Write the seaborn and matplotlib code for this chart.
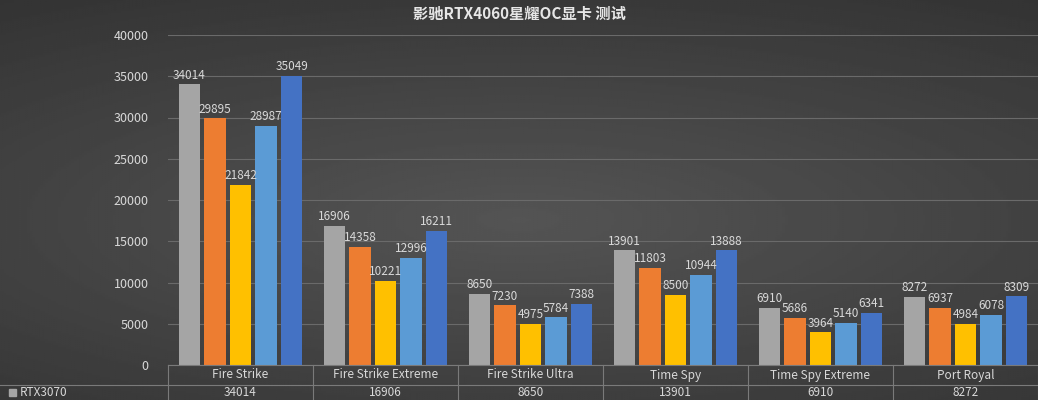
import numpy as np
import pandas as pd
import matplotlib
matplotlib.use("Agg")
import matplotlib.pyplot as plt
import seaborn as sns

categories = ["Fire Strike", "Fire Strike Extreme", "Fire Strike Ultra", "Time Spy", "Time Spy Extreme", "Port Royal"]
series_names = ["RTX3070", "RTX3060Ti", "RTX3060", "RTX4060Ti", "RTX4070"]
rtx3070 = [34014, 16906, 8650, 13901, 6910, 8272]
s2 = [29895, 14358, 7230, 11803, 5686, 6937]
s3 = [21842, 10221, 4975, 8500, 3964, 4984]
s4 = [28987, 12996, 5784, 10944, 5140, 6078]
s5 = [35049, 16211, 7388, 13888, 6341, 8309]
yticks = [0, 5000, 10000, 15000, 20000, 25000, 30000, 35000, 40000]
colors = ["#a5a5a5", "#ed7d31", "#ffc000", "#5b9bd5", "#4472c4"]

vals = [rtx3070, s2, s3, s4, s5]
df = pd.DataFrame([(c, n, v) for n, vs in zip(series_names, vals) for c, v in zip(categories, vs)],
                  columns=["cat", "series", "val"])

plt.rcParams["font.family"] = ["Noto Sans CJK SC", "DejaVu Sans"]
W, H = 1038, 400
fig = plt.figure(figsize=(W/100, H/100), dpi=100)
# background gradient
bg = fig.add_axes([0, 0, 1, 1], zorder=-10)
yy, xx = np.mgrid[0:1:200j, 0:1:400j]
r = np.sqrt(((xx-0.5)*1.2)**2 + ((yy-0.55)*1.6)**2)
bg.imshow(0.33 - 0.12*r, cmap="gray", vmin=0, vmax=1, aspect="auto", extent=[0, 1, 0, 1])
bg.axis("off")

x0, x1, yb, yt = 168, 1038, 365, 35
ax = fig.add_axes([x0/W, 1-yb/H, (x1-x0)/W, (yb-yt)/H])
ax.patch.set_alpha(0)
sns.barplot(data=df, x="cat", y="val", hue="series", palette=colors, width=0.88,
            ax=ax, legend=False, saturation=1, zorder=3)
for p in ax.patches:
    w = p.get_width()
    p.set_x(p.get_x() + w*0.08)
    p.set_width(w*0.84)
for cont in ax.containers:
    ax.bar_label(cont, fmt="%d", fontsize=8.5, color="#d9d9d9", padding=2)
ax.set_xlim(-0.5, 5.5)
ax.set_ylim(0, 40000)
ax.set_yticks(yticks)
ax.set_yticklabels([str(t) for t in yticks], color="#d9d9d9", fontsize=9)
ax.tick_params(length=0, pad=14)
ax.set_xticks([])
ax.set_xlabel(""); ax.set_ylabel("")
ax.grid(axis="y", color="#6a6a6a", lw=0.8, zorder=0)
for s in ax.spines.values():
    s.set_visible(False)

# data table
lc = "#7a7a7a"
fy = lambda y: 1 - y/H
fig.add_artist(plt.Line2D([x0/W, 1], [fy(365)]*2, color=lc, lw=0.8))
fig.add_artist(plt.Line2D([0, 1], [fy(385)]*2, color=lc, lw=0.8))
for i in range(7):
    xd = ax.transData.transform((i-0.5, 0))[0]
    fig.add_artist(plt.Line2D([xd/W]*2, [fy(365), 0], color=lc, lw=0.8))
for i, c in enumerate(categories):
    xd = ax.transData.transform((i, 0))[0]/W
    fig.text(xd, fy(375), c, ha="center", va="center", color="#d9d9d9", fontsize=8.5)
    fig.text(xd, fy(393), str(rtx3070[i]), ha="center", va="center", color="#d9d9d9", fontsize=8.5)
fig.patches.append(plt.Rectangle((9/W, fy(396)), 7/W, 7/H, color=colors[0], transform=fig.transFigure))
fig.text(20/W, fy(393), series_names[0], ha="left", va="center", color="#d9d9d9", fontsize=8.5)

fig.text(0.5, fy(14), "影驰RTX4060星耀OC显卡 测试", ha="center", va="center",
         color="#e6e6e6", fontsize=11, fontweight="bold")
fig.savefig("out.png", dpi=100)
